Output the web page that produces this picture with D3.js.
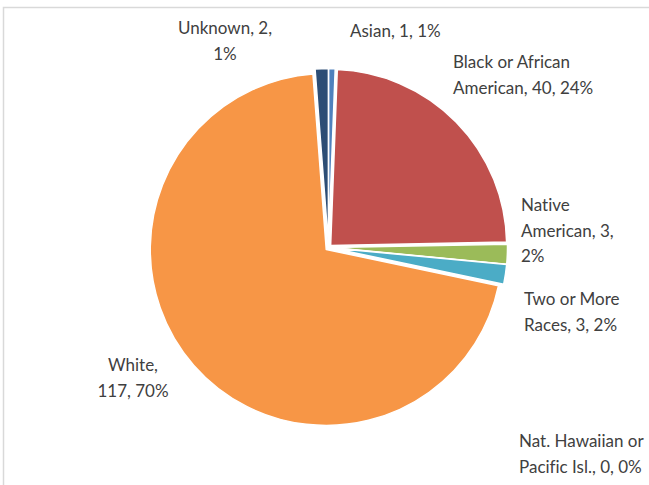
<!DOCTYPE html>
<html>
<head>
<meta charset="utf-8">
<script src="https://cdn.jsdelivr.net/npm/d3@7"></script>
<style>
  html, body { margin: 0; padding: 0; background: #fff; }
  svg { display: block; }
  text { font-variant-ligatures: none; font-feature-settings: "liga" 0; }
</style>
</head>
<body>
<div id="chart"></div>
<script>
// --- data ---
const categories = ['Asian', 'Black or African American', 'Native American',
  'Nat. Hawaiian or Pacific Isl.', 'Two or More Races', 'White', 'Unknown'];
const counts = [1, 40, 3, 0, 3, 117, 2];
const percents = ['1%', '24%', '2%', '0%', '2%', '70%', '1%'];
const labelLines = [
  ['Asian, 1, 1%'],
  ['Black or African', 'American, 40, 24%'],
  ['Native', 'American, 3,', '2%'],
  ['Nat. Hawaiian or', 'Pacific Isl., 0, 0%'],
  ['Two or More', 'Races, 3, 2%'],
  ['White,', '117, 70%'],
  ['Unknown, 2,', '1%']
];

// --- layout / style ---
const W = 649, H = 485;
const CX = 328.5, CY = 247.5, R = 176, EXPLODE = 3;
const colors = ['#4F81BD', '#C0504D', '#9BBB59', '#8064A2', '#4BACC6', '#F79646', '#2C4D75'];
const FONT = 'Lato, "Open Sans", sans-serif';
const FONT_SIZE = 17, LINE_H = 25.5;
// label anchor: x, y of first line's baseline, text-anchor
const labelPos = [
  { x: 350, y: 37, anchor: 'start' },
  { x: 453, y: 68, anchor: 'start' },
  { x: 521, y: 211, anchor: 'start' },
  { x: 519, y: 447, anchor: 'start' },
  { x: 524, y: 305, anchor: 'start' },
  { x: 133, y: 371, anchor: 'middle' },
  { x: 225, y: 34, anchor: 'middle' }
];

const svg = d3.select('#chart').append('svg')
  .attr('width', W).attr('height', H);

// chart area frame
svg.append('rect')
  .attr('x', 3.5).attr('y', 7.5)
  .attr('width', W + 20).attr('height', H + 20)
  .attr('fill', '#fff')
  .attr('stroke', '#D9D9D9').attr('stroke-width', 1.5);

const pie = d3.pie().sort(null).value(d => d)(counts);
const arc = d3.arc().innerRadius(0).outerRadius(R);

const g = svg.append('g').attr('transform', `translate(${CX},${CY})`);

g.selectAll('path.slice')
  .data(pie)
  .join('path')
  .attr('class', 'slice')
  .attr('d', arc)
  .attr('transform', d => {
    const mid = (d.startAngle + d.endAngle) / 2;
    return `translate(${EXPLODE * Math.sin(mid)},${-EXPLODE * Math.cos(mid)})`;
  })
  .attr('fill', (d, i) => colors[i])
  .attr('stroke', '#fff')
  .attr('stroke-width', 1.5)
  .attr('stroke-linejoin', 'round');

// data labels
const labels = svg.append('g')
  .attr('font-family', FONT)
  .attr('font-size', FONT_SIZE)
  .attr('fill', '#404040');

labelLines.forEach((lines, i) => {
  const p = labelPos[i];
  const t = labels.append('text')
    .attr('text-anchor', p.anchor)
    .attr('x', p.x).attr('y', p.y);
  lines.forEach((ln, j) => {
    t.append('tspan').attr('x', p.x).attr('y', p.y + j * LINE_H).text(ln);
  });
});
</script>
</body>
</html>
